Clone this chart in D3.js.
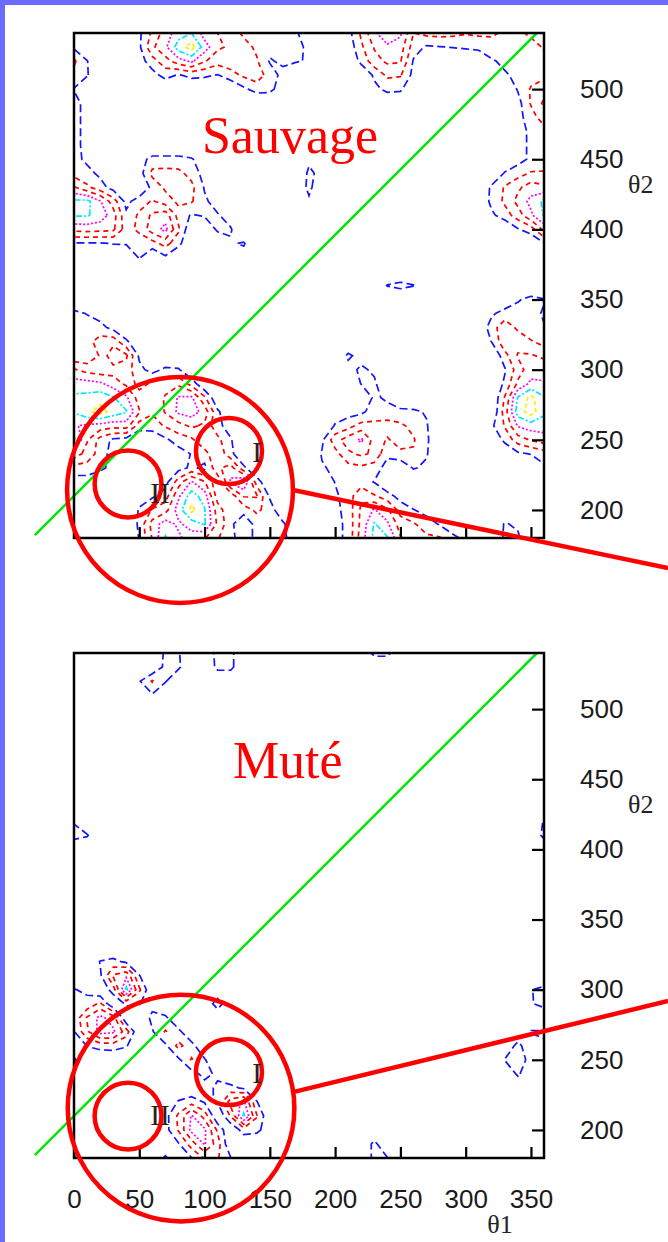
<!DOCTYPE html>
<html>
<head>
<meta charset="utf-8">
<script src="https://cdn.jsdelivr.net/npm/d3@7"></script>
<style>
  body { margin: 0; background: #fff; }
  svg { display: block; }
</style>
</head>
<body>
<div id="chart"></div>
<script>
const levels = [1, 2, 3, 4, 5, 6];
const theta1Ticks = [0, 50, 100, 150, 200, 250, 300, 350];
const theta2Ticks = [200, 250, 300, 350, 400, 450, 500];
const theta1Domain = [0, 360];
const theta2Domain = [180, 540];
const gridStep = 10;

// [theta1, theta2, value] on the 10 degree grid (0 elsewhere)
const sauvageCells = [
  [0,540,0.6],[50,540,0.8],[60,540,2.2],[70,540,3.5],[80,540,4.5],[90,540,5.0],[100,540,3.5],[110,540,3.0],[120,540,2.5],[130,540,1.8],[140,540,1.5],[150,540,1.3],[160,540,1.5],[170,540,1.1],[180,540,0.5],[210,540,0.6],[220,540,2.2],[230,540,3.8],[240,540,4.8],[250,540,4.2],[260,540,2.0],[270,540,2.3],[280,540,2.4],[290,540,2.3],[300,540,2.1],[310,540,2.2],[320,540,2.2],[330,540,1.8],[340,540,1.8],[350,540,2.2],[360,540,3.0],
  [0,530,0.8],[50,530,0.8],[60,530,2.8],[70,530,3.8],[80,530,5.5],[90,530,6.5],[100,530,4.5],[110,530,3.2],[120,530,2.8],[130,530,2.4],[140,530,1.8],[150,530,1.3],[160,530,1.5],[170,530,1.4],[180,530,0.7],[210,530,0.3],[220,530,1.8],[230,530,3.1],[240,530,3.8],[250,530,3.5],[260,530,1.5],[270,530,0.85],[280,530,0.95],[290,530,1.05],[300,530,1.15],[310,530,1.3],[320,530,1.5],[330,530,1.6],[340,530,1.6],[350,530,1.6],[360,530,2.1],
  [0,520,2.2],[10,520,1.05],[50,520,0.5],[60,520,1.6],[70,520,2.6],[80,520,3.6],[90,520,4.2],[100,520,3.1],[110,520,2.4],[120,520,2.6],[130,520,2.4],[140,520,2.1],[150,520,0.9],[160,520,1.2],[170,520,1.1],[180,520,0.9],[220,520,1.3],[230,520,2.6],[240,520,3.2],[250,520,3.1],[260,520,0.9],[320,520,0.9],[330,520,1.2],[340,520,1.4],[350,520,1.7],[360,520,1.8],
  [0,510,1.6],[10,510,1.1],[60,510,0.6],[70,510,1.4],[80,510,0.9],[90,510,1.3],[100,510,1.2],[110,510,0.95],[120,510,1.6],[130,510,2.2],[140,510,2.6],[150,510,1.5],[160,510,0.7],[230,510,1.2],[240,510,2.2],[250,510,2.1],[260,510,0.7],[330,510,0.9],[340,510,1.2],[350,510,1.6],[360,510,1.8],
  [0,500,0.95],[130,500,0.8],[140,500,1.4],[150,500,1.3],[160,500,0.4],[230,500,0.7],[240,500,1.3],[250,500,1.2],[340,500,1.1],[350,500,2.1],[360,500,2.5],
  [0,490,1.3],[10,490,0.7],[340,490,0.6],[350,490,2.1],[360,490,3.2],
  [0,480,1.3],[10,480,0.7],[340,480,0.6],[350,480,1.6],[360,480,2.5],
  [0,470,1.3],[10,470,0.7],[340,470,0.6],[350,470,1.2],[360,470,1.6],
  [0,460,1.3],[10,460,0.7],[340,460,0.6],[350,460,1.2],[360,460,1.5],
  [0,450,1.3],[10,450,0.8],[50,450,0.6],[60,450,1.3],[70,450,1.3],[80,450,1.3],[90,450,1.1],[100,450,0.4],[180,450,0.8],[340,450,0.6],[350,450,1.2],[360,450,1.5],
  [0,440,1.6],[10,440,1.3],[20,440,0.8],[50,440,0.5],[60,440,2.3],[70,440,2.4],[80,440,2.3],[90,440,1.6],[100,440,0.6],[180,440,1.2],[190,440,0.7],[330,440,1.1],[340,440,1.6],[350,440,2.1],[360,440,2.1],
  [0,430,3.1],[10,430,2.2],[20,430,1.4],[30,430,0.6],[60,430,1.3],[70,430,2.2],[80,430,2.8],[90,430,2.3],[100,430,0.9],[180,430,1.3],[320,430,1.2],[330,430,2.1],[340,430,2.8],[350,430,3.5],[360,430,3.2],
  [0,420,5.2],[10,420,5.3],[20,420,4.1],[30,420,2.5],[40,420,0.7],[50,420,1.5],[60,420,2.1],[70,420,1.5],[80,420,2.2],[90,420,2.1],[100,420,1.2],[110,420,0.5],[180,420,0.8],[320,420,1.3],[330,420,2.2],[340,420,3.3],[350,420,4.3],[360,420,5.2],
  [0,410,5.1],[10,410,5.1],[20,410,4.6],[30,410,3.5],[40,410,1.2],[50,410,2.2],[60,410,3.2],[70,410,3.6],[80,410,1.6],[90,410,0.9],[100,410,1.1],[110,410,1.1],[120,410,0.5],[320,410,0.8],[330,410,1.5],[340,410,2.5],[350,410,3.8],[360,410,5.1],
  [0,400,3.3],[10,400,3.4],[20,400,3.3],[30,400,3.2],[40,400,1.5],[50,400,2.3],[60,400,3.5],[70,400,4.3],[80,400,2.2],[110,400,1.2],[120,400,1.1],[340,400,0.9],[350,400,1.5],[360,400,3.3],
  [0,390,0.9],[10,390,0.9],[20,390,0.9],[30,390,1.05],[40,390,1.1],[50,390,1.2],[60,390,1.6],[70,390,2.4],[80,390,1.3],[120,390,0.9],[130,390,1.1],[360,390,0.9],
  [50,380,1.1],[70,380,0.8],[130,380,0.6],
  [240,360,1.05],[250,360,1.3],[260,360,1.05],
  [340,350,0.9],[350,350,1.3],[360,350,1.05],
  [0,340,1.3],[10,340,0.95],[20,340,0.6],[320,340,0.8],[330,340,1.5],[340,340,1.4],[350,340,1.3],[360,340,0.9],
  [0,330,1.5],[10,330,1.6],[20,330,1.3],[30,330,0.7],[320,330,1.6],[330,330,2.6],[340,330,1.8],[350,330,1.3],[360,330,1.05],
  [0,320,1.2],[10,320,1.6],[20,320,2.5],[30,320,2.6],[40,320,1.2],[320,320,1.05],[330,320,2.8],[340,320,2.6],[350,320,2.1],[360,320,1.6],
  [0,310,1.2],[10,310,1.2],[20,310,2.1],[30,310,3.8],[40,310,3.2],[50,310,0.8],[210,310,1.2],[220,310,0.6],[330,310,1.6],[340,310,3.1],[350,310,3.1],[360,310,2.8],
  [0,300,3.1],[10,300,2.6],[20,300,2.4],[30,300,2.6],[40,300,2.5],[50,300,1.3],[60,300,0.6],[70,300,1.2],[80,300,1.1],[210,300,0.6],[220,300,1.2],[230,300,0.8],[330,300,0.9],[340,300,2.5],[350,300,3.6],[360,300,3.6],
  [0,290,4.5],[10,290,4.4],[20,290,4.2],[30,290,3.5],[40,290,2.8],[50,290,1.6],[60,290,2.2],[70,290,2.6],[80,290,2.8],[90,290,1.6],[220,290,1.05],[230,290,1.2],[330,290,1.2],[340,290,3.2],[350,290,4.2],[360,290,4.1],
  [0,280,5.2],[10,280,5.3],[20,280,5.6],[30,280,5.1],[40,280,4.2],[50,280,2.5],[60,280,2.4],[70,280,3.1],[80,280,4.1],[90,280,4.2],[100,280,2.2],[230,280,1.2],[240,280,0.8],[330,280,2.1],[340,280,5.1],[350,280,6.3],[360,280,5.1],
  [0,270,5.1],[10,270,5.8],[20,270,6.4],[30,270,5.6],[40,270,5.1],[50,270,3.1],[60,270,2.1],[70,270,3.1],[80,270,4.2],[90,270,4.5],[100,270,3.6],[110,270,1.2],[200,270,0.4],[210,270,0.6],[220,270,0.7],[230,270,1.6],[240,270,1.4],[250,270,1.3],[260,270,1.2],[270,270,0.9],[330,270,2.5],[340,270,5.5],[350,270,6.5],[360,270,5.2],
  [0,260,4.1],[10,260,3.8],[20,260,3.6],[30,260,3.4],[40,260,3.5],[50,260,1.5],[60,260,1.6],[70,260,2.1],[80,260,2.6],[90,260,3.2],[100,260,2.8],[110,260,1.3],[120,260,0.5],[200,260,1.1],[210,260,1.6],[220,260,2.4],[230,260,2.2],[240,260,2.4],[250,260,2.2],[260,260,1.7],[270,260,1.1],[320,260,0.8],[330,260,2.1],[340,260,4.1],[350,260,4.5],[360,260,4.5],
  [0,250,5.2],[10,250,3.1],[20,250,1.6],[30,250,0.8],[40,250,0.6],[70,250,0.8],[80,250,1.5],[90,250,1.8],[100,250,2.8],[110,250,2.3],[120,250,1.1],[190,250,0.8],[200,250,2.6],[210,250,3.5],[220,250,4.2],[230,250,2.6],[240,250,1.9],[250,250,2.4],[260,250,2.1],[270,250,1.2],[330,250,1.3],[340,250,2.5],[350,250,3.1],[360,250,3.5],
  [0,240,3.6],[10,240,2.6],[20,240,1.6],[30,240,0.5],[80,240,0.5],[90,240,1.05],[100,240,1.6],[110,240,2.8],[120,240,1.3],[190,240,1.1],[200,240,1.6],[210,240,2.8],[220,240,3.2],[230,240,2.8],[240,240,1.2],[250,240,1.8],[260,240,1.9],[270,240,1.1],[340,240,0.8],[350,240,1.05],[360,240,1.5],
  [0,230,1.6],[10,230,1.6],[20,230,1.3],[30,230,0.6],[80,230,0.6],[90,230,1.2],[100,230,0.7],[110,230,2.8],[120,230,3.5],[130,230,1.2],[190,230,0.9],[200,230,1.2],[210,230,1.6],[220,230,1.8],[230,230,1.5],[240,230,0.6],[260,230,1.1],[270,230,0.8],[360,230,0.8],
  [0,220,0.5],[10,220,0.5],[70,220,0.6],[80,220,2.5],[90,220,4.1],[100,220,3.1],[110,220,1.2],[120,220,4.2],[130,220,5.1],[140,220,1.5],[200,220,1.05],[210,220,1.2],[220,220,1.5],[230,220,0.95],
  [50,210,0.6],[60,210,0.8],[70,210,1.5],[80,210,3.8],[90,210,5.5],[100,210,4.5],[110,210,1.5],[120,210,1.4],[130,210,3.1],[140,210,3.1],[150,210,0.8],[200,210,0.8],[210,210,1.5],[220,210,2.8],[230,210,2.1],[240,210,1.4],[250,210,0.6],
  [50,200,1.1],[60,200,2.1],[70,200,2.6],[80,200,4.5],[90,200,6.3],[100,200,5.1],[110,200,2.5],[120,200,1.2],[130,200,1.5],[140,200,2.2],[150,200,1.6],[200,200,0.7],[210,200,1.4],[220,200,3.2],[230,200,4.1],[240,200,3.2],[250,200,1.6],[260,200,1.05],[270,200,0.6],
  [50,190,1.2],[60,190,3.4],[70,190,4.5],[80,190,3.8],[90,190,4.5],[100,190,5.1],[110,190,2.8],[120,190,1.3],[140,190,1.5],[150,190,1.8],[160,190,1.2],[200,190,0.6],[210,190,1.3],[220,190,3.3],[230,190,5.1],[240,190,4.2],[250,190,2.5],[260,190,2.1],[270,190,1.5],[280,190,0.9],[330,190,1.1],[340,190,0.8],
  [50,180,1.05],[60,180,3.1],[70,180,5.1],[80,180,4.2],[90,180,3.5],[100,180,3.1],[110,180,2.1],[120,180,1.2],[130,180,0.6],[140,180,1.2],[150,180,1.4],[160,180,1.2],[170,180,0.5],[200,180,0.6],[210,180,1.3],[220,180,3.5],[230,180,5.3],[240,180,5.1],[250,180,3.1],[260,180,2.5],[270,180,2.2],[280,180,2.1],[290,180,1.4],[300,180,0.6],[330,180,1.2],[340,180,1.2]
];

const muteCells = [
  [70,540,1.2],[80,540,1.1],[110,540,1.4],[120,540,1.3],[230,540,1.3],[240,540,1.3],
  [70,530,1.3],[80,530,1.2],[110,530,1.3],[120,530,1.3],
  [50,520,0.9],[60,520,2.1],[70,520,1.1],
  [60,510,0.9],
  [0,420,0.9],[360,420,1.1],
  [0,410,1.4],[10,410,1.1],[360,410,1.3],
  [20,320,1.05],[30,320,1.3],[40,320,0.8],
  [20,310,0.8],[30,310,3.1],[40,310,3.8],[50,310,1.05],
  [0,300,1.05],[10,300,0.8],[30,300,1.5],[40,300,5.3],[50,300,2.2],[350,300,0.95],[360,300,1.3],
  [0,290,1.05],[10,290,1.3],[20,290,2.2],[40,290,1.2],[50,290,1.05],[60,290,0.6],[110,290,1.6],[350,290,0.9],[360,290,1.4],
  [0,280,1.2],[10,280,3.1],[20,280,4.3],[30,280,3.5],[60,280,1.3],[70,280,1.2],
  [0,270,0.9],[10,270,2.8],[20,270,4.4],[30,270,4.2],[40,270,2.5],[60,270,0.9],[70,270,2.1],[80,270,1.3],[350,270,1.1],[360,270,1.1],
  [10,260,1.05],[20,260,1.4],[30,260,1.5],[40,260,1.1],[70,260,0.8],[80,260,2.3],[90,260,1.4],[340,260,1.4],[360,260,0.9],
  [0,250,1.2],[80,250,0.8],[90,250,2.1],[100,250,1.1],[330,250,1.05],[340,250,1.3],[350,250,0.8],
  [0,240,0.8],[90,240,0.6],[100,240,1.3],[110,240,0.8],[340,240,1.2],
  [100,230,0.6],[110,230,1.2],[120,230,1.3],[130,230,0.8],[350,230,0.7],
  [80,220,1.1],[90,220,1.6],[100,220,0.9],[110,220,1.05],[120,220,3.5],[130,220,4.2],[140,220,1.05],
  [70,210,0.6],[80,210,2.2],[90,210,4.1],[100,210,2.6],[120,210,2.1],[130,210,5.2],[140,210,2.1],
  [70,200,0.6],[80,200,2.1],[90,200,4.3],[100,200,4.2],[110,200,1.8],[130,200,1.5],[140,200,1.3],[150,200,0.3],
  [80,190,0.9],[90,190,2.5],[100,190,4.1],[110,190,2.5],[230,190,1.3],
  [70,180,1.2],[90,180,0.95],[100,180,2.1],[110,180,2.1],[120,180,1.05],[230,180,1.3],[240,180,1.05]
];

// annotations, in data units (theta1, theta2, radius in theta1 degrees)
const diagonal = [[-30, 182], [354.6, 540]];
const sauvageCircles = [[81.2, 214.2, 86.5], [118.7, 242, 25.3], [41.4, 218.5, 25.6]];
const muteCircles = [[82, 215.6, 86.8], [118.7, 241.3, 25.3], [41.4, 209.9, 25.6]];
const sauvageLink = [[167.7, 214.2], [455, 158.6]];
const muteLink = [[167.7, 227], [455, 291.9]];
const sauvageMarks = [['I', 140.2, 234.2], ['II', 65.9, 205]];
const muteMarks = [['I', 140.2, 233.5], ['II', 65.9, 203.5]];

const levelColors = ['#1414ff', '#ff0000', '#ff0000', '#ff00ff', '#00e8ff', '#ffee00'];
const levelDashes = ['8,4', '5,4', '5,4', '2,2', '6,2,2,2', '4,3'];

const width = 668;
const height = 1242;
const plotLeft = 74;
const plotRight = 544;
const nx = 37, ny = 37;

const panels = [
  { title: 'Sauvage', titleAt: [98, 454.5], cells: sauvageCells, top: 33, bottom: 538, circles: sauvageCircles, link: sauvageLink, marks: sauvageMarks, showTheta1: false },
  { title: 'Muté', titleAt: [121.7, 451], cells: muteCells, top: 653, bottom: 1158, circles: muteCircles, link: muteLink, marks: muteMarks, showTheta1: true }
];

const svg = d3.select('#chart')
  .append('svg')
  .attr('width', width)
  .attr('height', height)
  .style('background-color', 'white');

svg.append('rect').attr('x', 0).attr('y', 0).attr('width', 5).attr('height', height).attr('fill', '#6b6bff');
svg.append('rect').attr('x', 0).attr('y', 0).attr('width', width).attr('height', 5).attr('fill', '#6b6bff');

function buildGrid(cells) {
  const grid = new Array(nx * ny).fill(0);
  cells.forEach(([t1, t2, v]) => {
    const i = Math.round(t1 / gridStep);
    const j = Math.round((theta2Domain[1] - t2) / gridStep);
    grid[j * nx + i] = Math.max(grid[j * nx + i], v);
  });
  return grid;
}

panels.forEach((p, k) => {
  const x = d3.scaleLinear().domain(theta1Domain).range([plotLeft, plotRight]);
  const y = d3.scaleLinear().domain(theta2Domain).range([p.bottom, p.top]);

  const proj = d3.geoTransform({
    point(gx, gy) {
      this.stream.point(x((gx - 0.5) * gridStep), y(theta2Domain[1] - (gy - 0.5) * gridStep));
    }
  });
  const path = d3.geoPath(proj);

  const contours = d3.contours()
    .size([nx, ny])
    .thresholds(levels)(buildGrid(p.cells));

  svg.append('clipPath')
    .attr('id', 'clip' + k)
    .append('rect')
    .attr('x', plotLeft)
    .attr('y', p.top)
    .attr('width', plotRight - plotLeft)
    .attr('height', p.bottom - p.top);

  svg.append('g')
    .attr('clip-path', `url(#clip${k})`)
    .selectAll('path')
    .data(contours)
    .join('path')
    .attr('d', path)
    .attr('fill', 'none')
    .attr('stroke', d => levelColors[levels.indexOf(d.value)])
    .attr('stroke-width', 1.7)
    .attr('stroke-dasharray', d => levelDashes[levels.indexOf(d.value)]);

  svg.append('path')
    .attr('d', d3.line()(diagonal.map(d => [x(d[0]), y(d[1])])))
    .attr('stroke', '#00e600')
    .attr('stroke-width', 2.5)
    .attr('fill', 'none');

  svg.append('rect')
    .attr('x', plotLeft)
    .attr('y', p.top)
    .attr('width', plotRight - plotLeft)
    .attr('height', p.bottom - p.top)
    .attr('fill', 'none')
    .attr('stroke', '#000')
    .attr('stroke-width', 2.5);

  const xAxis = svg.append('g')
    .attr('transform', `translate(0,${p.bottom})`)
    .call(d3.axisBottom(x)
      .tickValues(theta1Ticks)
      .tickSizeInner(-11)
      .tickSizeOuter(0)
      .tickPadding(32)
      .tickFormat(p.showTheta1 ? d3.format('d') : () => ''));

  const yAxis = svg.append('g')
    .attr('transform', `translate(${plotRight},0)`)
    .call(d3.axisRight(y)
      .tickValues(theta2Ticks)
      .tickSizeInner(-12)
      .tickSizeOuter(0)
      .tickPadding(36));

  [xAxis, yAxis].forEach(a => {
    a.select('.domain').remove();
    a.selectAll('.tick line').attr('stroke', '#000').attr('stroke-width', 2.2);
    a.selectAll('.tick text')
      .attr('fill', '#1a1a1a')
      .style('font-family', "'Liberation Sans', Arial, sans-serif")
      .style('font-size', '26px');
  });

  svg.append('text')
    .attr('x', plotRight + 84)
    .attr('y', p.top + 160)
    .style('font-family', "'Liberation Serif', 'Times New Roman', serif")
    .style('font-size', '26px')
    .attr('fill', '#222')
    .text('θ2');

  if (p.showTheta1) {
    svg.append('text')
      .attr('x', 500)
      .attr('y', p.bottom + 75)
      .attr('text-anchor', 'middle')
      .style('font-family', "'Liberation Serif', 'Times New Roman', serif")
      .style('font-size', '26px')
      .attr('fill', '#222')
      .text('θ1');
  }

  svg.append('text')
    .attr('x', x(p.titleAt[0]))
    .attr('y', y(p.titleAt[1]))
    .style('font-family', "'Liberation Serif', 'Times New Roman', serif")
    .style('font-size', '52px')
    .attr('fill', '#ff0000')
    .text(p.title);

  svg.append('g')
    .selectAll('circle')
    .data(p.circles)
    .join('circle')
    .attr('cx', d => x(d[0]))
    .attr('cy', d => y(d[1]))
    .attr('r', d => x(d[2]) - x(0))
    .attr('fill', 'none')
    .attr('stroke', '#ff0000')
    .attr('stroke-width', 4.5);

  svg.append('path')
    .attr('d', d3.line()(p.link.map(d => [x(d[0]), y(d[1])])))
    .attr('stroke', '#ff0000')
    .attr('stroke-width', 4.5)
    .attr('fill', 'none');

  svg.append('g')
    .selectAll('text')
    .data(p.marks)
    .join('text')
    .attr('x', d => x(d[1]))
    .attr('y', d => y(d[2]))
    .attr('text-anchor', 'middle')
    .style('font-family', "'Liberation Serif', 'Times New Roman', serif")
    .style('font-size', '29px')
    .attr('fill', '#222')
    .text(d => d[0]);
});
</script>
</body>
</html>
